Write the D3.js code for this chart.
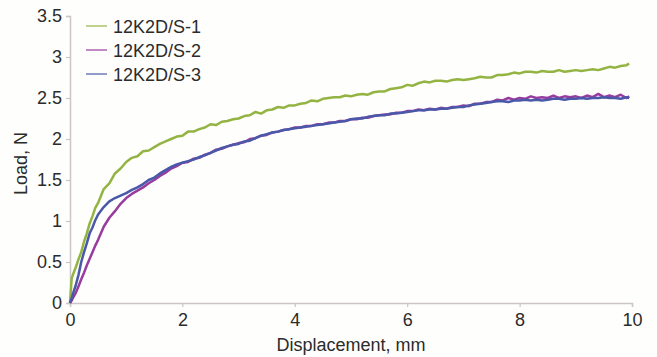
<!DOCTYPE html>
<html>
<head>
  <meta charset="utf-8">
  <title>Load vs displacement</title>
  <script src="https://cdn.jsdelivr.net/npm/d3@7/dist/d3.min.js"></script>
  <style>
    body { margin: 0; background: #fefefc; }
    svg { display: block; }
    text { font-family: "Liberation Sans", Arial, sans-serif; fill: #2b2b2b; }
  </style>
</head>
<body>
  <svg width="657" height="357"></svg>

  <script>
    // displacement, mm
    const disp = [0, 0.03, 0.06, 0.1, 0.15, 0.2, 0.25, 0.3, 0.35, 0.4, 0.45, 0.5, 0.6, 0.7, 0.8, 0.9, 1.0,
      1.1, 1.2, 1.3, 1.4, 1.5, 1.6, 1.7, 1.8, 1.9, 2.0, 2.1, 2.2, 2.3, 2.4, 2.5, 2.6, 2.7, 2.8, 2.9, 3.0,
      3.1, 3.2, 3.3, 3.4, 3.5, 3.6, 3.7, 3.8, 3.9, 4.0, 4.1, 4.2, 4.3, 4.4, 4.5, 4.6, 4.7, 4.8, 4.9, 5.0,
      5.1, 5.2, 5.3, 5.4, 5.5, 5.6, 5.7, 5.8, 5.9, 6.0, 6.1, 6.2, 6.3, 6.4, 6.5, 6.6, 6.7, 6.8, 6.9, 7.0,
      7.1, 7.2, 7.3, 7.4, 7.5, 7.6, 7.7, 7.8, 7.9, 8.0, 8.1, 8.2, 8.3, 8.4, 8.5, 8.6, 8.7, 8.8, 8.9, 9.0,
      9.1, 9.2, 9.3, 9.4, 9.5, 9.6, 9.7, 9.8, 9.9, 9.95];

    // load, N
    const s1 = [0, 0.30, 0.36, 0.43, 0.53, 0.62, 0.75, 0.85, 0.97, 1.06, 1.16, 1.22, 1.39, 1.46, 1.58, 1.64, 1.72,
      1.77, 1.79, 1.85, 1.86, 1.90, 1.94, 1.97, 2.00, 2.03, 2.04, 2.09, 2.09, 2.12, 2.14, 2.18, 2.17, 2.21, 2.22, 2.24, 2.25,
      2.28, 2.29, 2.33, 2.31, 2.35, 2.36, 2.39, 2.38, 2.41, 2.41, 2.43, 2.44, 2.47, 2.46, 2.49, 2.50, 2.51, 2.51, 2.53, 2.52,
      2.54, 2.55, 2.54, 2.57, 2.58, 2.58, 2.61, 2.62, 2.63, 2.66, 2.65, 2.68, 2.70, 2.69, 2.71, 2.71, 2.70, 2.72, 2.73, 2.72,
      2.73, 2.74, 2.76, 2.75, 2.75, 2.78, 2.78, 2.79, 2.81, 2.80, 2.82, 2.82, 2.81, 2.83, 2.82, 2.82, 2.84, 2.82, 2.83, 2.84,
      2.83, 2.84, 2.85, 2.84, 2.86, 2.88, 2.87, 2.89, 2.90, 2.92];

    const s2 = [0, 0.03, 0.07, 0.12, 0.20, 0.29, 0.37, 0.46, 0.54, 0.62, 0.70, 0.77, 0.93, 1.04, 1.12, 1.21, 1.28,
      1.33, 1.37, 1.41, 1.46, 1.50, 1.55, 1.59, 1.64, 1.67, 1.71, 1.72, 1.76, 1.77, 1.81, 1.83, 1.87, 1.88, 1.91, 1.93, 1.95,
      1.96, 2.00, 2.01, 2.04, 2.05, 2.08, 2.09, 2.11, 2.12, 2.14, 2.14, 2.16, 2.16, 2.18, 2.18, 2.20, 2.20, 2.22, 2.22, 2.24,
      2.24, 2.26, 2.26, 2.28, 2.29, 2.30, 2.30, 2.32, 2.32, 2.34, 2.34, 2.36, 2.35, 2.37, 2.36, 2.38, 2.37, 2.39, 2.39, 2.41,
      2.40, 2.43, 2.43, 2.45, 2.45, 2.48, 2.47, 2.50, 2.48, 2.50, 2.49, 2.52, 2.50, 2.51, 2.50, 2.53, 2.50, 2.52, 2.51, 2.52,
      2.50, 2.53, 2.51, 2.55, 2.51, 2.53, 2.51, 2.54, 2.50, 2.52];

    const s3 = [0, 0.06, 0.13, 0.21, 0.34, 0.50, 0.62, 0.73, 0.85, 0.92, 1.01, 1.08, 1.17, 1.24, 1.28, 1.31, 1.34,
      1.38, 1.41, 1.45, 1.50, 1.53, 1.58, 1.62, 1.66, 1.69, 1.71, 1.73, 1.75, 1.78, 1.80, 1.83, 1.86, 1.89, 1.91, 1.93, 1.94,
      1.97, 1.98, 2.01, 2.04, 2.06, 2.08, 2.09, 2.11, 2.12, 2.13, 2.14, 2.15, 2.16, 2.17, 2.18, 2.19, 2.20, 2.21, 2.22, 2.24,
      2.25, 2.25, 2.27, 2.28, 2.29, 2.29, 2.31, 2.31, 2.32, 2.33, 2.34, 2.35, 2.35, 2.36, 2.36, 2.37, 2.37, 2.38, 2.39, 2.39,
      2.41, 2.42, 2.43, 2.44, 2.45, 2.46, 2.46, 2.45, 2.47, 2.47, 2.48, 2.47, 2.48, 2.47, 2.48, 2.49, 2.49, 2.48, 2.49, 2.49,
      2.50, 2.49, 2.50, 2.50, 2.51, 2.50, 2.50, 2.49, 2.51, 2.50];

    const names = ["12K2D/S-1", "12K2D/S-2", "12K2D/S-3"];
    const colors = ["#93b443", "#983c9f", "#4958a9"];
    const xTicks = [0, 2, 4, 6, 8, 10];
    const yTicks = [0, 0.5, 1, 1.5, 2, 2.5, 3, 3.5];

    const series = [s1, s2, s3].map((s, i) => ({
      name: names[i],
      color: colors[i],
      values: disp.map((d, j) => ({ x: d, y: s[j] }))
    }));

    const svg = d3.select("svg");
    const margin = { top: 16, right: 25, bottom: 54, left: 70 };
    const width = 657 - margin.left - margin.right;
    const height = 357 - margin.top - margin.bottom;

    const g = svg.append("g")
      .attr("transform", `translate(${margin.left},${margin.top})`);

    const x = d3.scaleLinear().domain([0, 10]).range([0, width]);
    const y = d3.scaleLinear().domain([0, 3.5]).range([height, 0]);

    const xAxis = g.append("g")
      .attr("transform", `translate(0,${height})`)
      .call(d3.axisBottom(x).tickValues(xTicks).tickFormat(d3.format("~g")).tickSize(4).tickPadding(6));
    const yAxis = g.append("g")
      .call(d3.axisLeft(y).tickValues(yTicks).tickFormat(d3.format("~g")).tickSize(4).tickPadding(4));

    [xAxis, yAxis].forEach(a => {
      a.select(".domain").attr("stroke", "#cbc5c8").attr("stroke-width", 1.5);
      a.selectAll(".tick line").attr("stroke", "#cbc5c8").attr("stroke-width", 1.2);
      a.selectAll(".tick text")
        .attr("font-size", 18)
        .attr("font-family", "Liberation Sans, Arial, sans-serif")
        .attr("fill", "#2b2b2b");
    });

    g.append("text")
      .attr("x", width / 2)
      .attr("y", height + 48)
      .attr("text-anchor", "middle")
      .attr("font-size", 18)
      .text("Displacement, mm");

    g.append("text")
      .attr("transform", `translate(-43,${y(1.7)}) rotate(-90)`)
      .attr("text-anchor", "middle")
      .attr("font-size", 18)
      .text("Load, N");

    const line = d3.line()
      .x(d => x(d.x))
      .y(d => y(d.y));

    g.selectAll(".series")
      .data(series)
      .join("path")
      .attr("class", "series")
      .attr("fill", "none")
      .attr("stroke", d => d.color)
      .attr("stroke-width", 2.5)
      .attr("stroke-linejoin", "round")
      .attr("d", d => line(d.values));

    // legend
    const legend = g.append("g").attr("transform", "translate(16,10)");
    const row = legend.selectAll("g")
      .data(series)
      .join("g")
      .attr("transform", (d, i) => `translate(0,${i * 24})`);
    row.append("line")
      .attr("x1", 0).attr("x2", 21)
      .attr("stroke", d => d.color)
      .attr("stroke-opacity", 0.75)
      .attr("stroke-width", 1.6);
    row.append("text")
      .attr("x", 27)
      .attr("y", 6.5)
      .attr("font-size", 18)
      .text(d => d.name);
  </script>
</body>
</html>
